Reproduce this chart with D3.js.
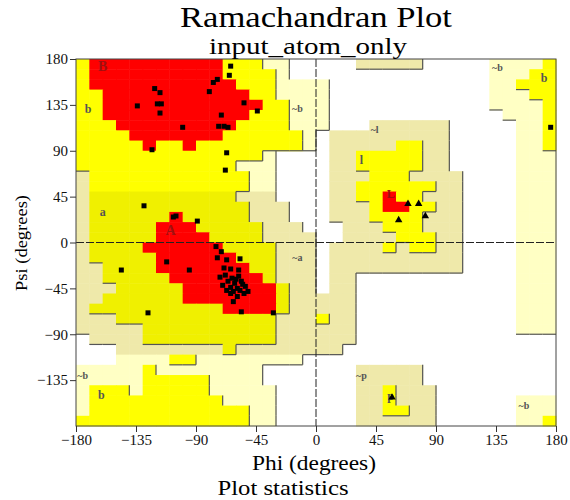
<!DOCTYPE html>
<html>
<head>
<meta charset="utf-8">
<script src="https://cdn.jsdelivr.net/npm/d3@7/dist/d3.min.js"></script>
<style>
body { margin: 0; background: #fff; }
svg text { font-family: "Liberation Serif", "DejaVu Serif", "Noto Serif", "Tinos", "Times New Roman", Times, serif; }
</style>
</head>
<body>
<div id="chart"></div>
<script>
// region map, 10 degree cells, rows from psi=180 down, columns from phi=-180
// R core, Y/y allowed, G/P generous, . disallowed
var regionRows = [
    "YRRRRRRRRRRYYYPP.." + "...GGGGG.....PPPPY",
    "YRRRRRRRRRRYYYYP.." + ".............PPPYY",
    "YRRRRRRRRRRRYYYPPP" + "P............PPYYY",
    "YYRRRRRRRRRRRYYPPP" + "P............PPPYY",
    "YYRRRRRRRRRRRRYYPP" + "P............PPPPY",
    "YYRRRRRRRRRRRYYYPP" + "P.............PPPY",
    "YYYRRRRRRRRRYYYYPP" + "P...GGGGGG.....PPY",
    "YYYYRRRRRRRYYYYYYP" + ".GGGGGGGGG.....PPY",
    "YYYYYRYYRYYYYYYYYP" + ".GGGGGYYGG.....PPY",
    "YYYYYYYYYYYYYYP..." + ".GGYYYYYGG.....PPP",
    "YYYYYYYYYYYYPPP..." + ".GGYYYYYGG.....PPP",
    "GYYYYYYYYYYYYPP..." + ".GGGYYYGGGG....PPP",
    "GYYYYYYYYYYYYPP..." + ".GGYYYYYYGG....PPP",
    "GyyyyyyyyyyyGGG..." + ".GGYYRYYGGG....PPP",
    "GyyyyyyyyyyyyGGG.." + ".GGGYRRYYGG....PPP",
    "GyyyyyyRyyyyyGGG.." + ".GGGYYYYGGG....PPP",
    "GyyyyyRRRyyyyyGGG." + "..GGGYYYGGG....PPP",
    "GyyyyyRRRRyyyyGGGG" + "..GGGGYYYGG....PPP",
    "GyyyyRRRRRRyyyyGGG" + ".GGGGYGYYGG....PPP",
    "GyyyyyRRRRRRyyyGGG" + ".GGGGGGGGGG....PPP",
    "GGyyyyRRRRRRRyyGGG" + ".GGGGGGGGGG....PPP",
    "GGyyyyyRRRRRRRyGGG" + ".GG............PPP",
    "GGGyyyyyRRRRRRRyGG" + ".GG............PPP",
    "GGyyyyyyRRRRRRRyGG" + "GGG............PPP",
    "GyyyyyyyyyyRRRRyGG" + "GGG............PPP",
    "GGGyyyyyyyyyyyyGGG" + "YGG............PPP",
    "GGGGGyyyyyyyyyyGGG" + "GGG............PPP",
    ".GGGGyyyyyyyyyyGGG" + "GGG...............",
    "...GGGGGGGGyGGGGGG" + "GG................",
    "...PPPPYYPPPPPPPP." + "..................",
    "PPPPPYPPPPPPPP...." + "...GGGGG..........",
    "PPPPPYYYYYPPPP...." + "...GGGGG..........",
    "PYYYPYYYYYPPPPP..." + "...GGYGGG.........",
    "PYYYYYYYYYYPPPP..." + "...GGYGGG......PPP",
    "PYYYYYYYYYYYYPP..." + "...GGYYGG......PPP",
    "YYYYYYYYYYYYYPP..." + "...GGGGGG......PPY"
];

var phiTicks = [-180, -135, -90, -45, 0, 45, 90, 135, 180];
var psiTicks = [-135, -90, -45, 0, 45, 90, 135, 180];

// non-glycine residues (squares)
var resPhi = [-121, -117, -134, -119, -116, -117, -100, -123,
    -64, -65, -74, -77, -80, -54, -44, -71, -73, -69, -66, -67, -68,
    -129, -107, -105, -89, -112, -95, -146, -126, -32,
    -75, -71, -57, -67, -74, -69, -64, -58,
    -68, -63, -58, -66, -61, -56, -70, -64, -59, -53, -67, -62, -57, -51, -60, -72, -55,
    -64, -59, -54, -62, -56, 176];
var resPsi = [151, 147, 134, 136, 136, 127, 113, 91,
    173, 164, 160, 157, 148, 137, 129, 125, 114, 114, 113, 88, 71,
    36, 25, 26, 21, -19, -27, -27, -69, -69,
    -4, -9, -16, -17, -15, -25, -26, -27,
    -32, -35, -33, -38, -40, -38, -42, -44, -45, -43, -47, -48, -47, -48, -36, -34, -41,
    -50, -53, -50, -58, -68, 113];

// glycines (triangles)
var glyPhi = [69, 77, 82, 62, 57];
var glyPsi = [38, 38, 26, 22, -152];

var labelText = ["B", "b", "A", "a", "~b", "~a", "~l", "l", "L", "~p", "p", "~b", "~b", "b", "~b", "b"];
var labelPhi = [-160, -171, -109, -160, -14, -14, 44, 34, 56, 34, 56, 156, 136, 171, -175, -161];
var labelPsi = [171, 130, 11, 29, 130, -16, 110, 80, 46, -132, -152, -161, 170, 160, -132, -151];

var svg = d3.select("#chart").append("svg")
        .attr("width", 570)
        .attr("height", 500);

var x = d3.scaleLinear().domain([-180, 180]).range([76, 556]);
var y = d3.scaleLinear().domain([-180, 180]).range([426, 59]);

var cellColor = {R: "#ff0000", Y: "#ffff00", y: "#f0f000", G: "#efe9aa", P: "#ffffc4"};
var level = {R: 3, Y: 2, y: 2, G: 1, P: 1, ".": 0};

var cells = [];
regionRows.forEach(function (row, j) {
    row.split("").forEach(function (c, i) {
        cells.push({i: i, j: j, c: c, phi: -180 + 10 * i, psi: 180 - 10 * j});
    });
});

svg.append("g").selectAll("rect")
        .data(cells.filter(function (d) { return d.c != "."; }))
        .enter()
        .append("rect")
        .attr("x", function (d) { return x(d.phi); })
        .attr("y", function (d) { return y(d.psi); })
        .attr("width", function (d) { return x(d.phi + 10) - x(d.phi) + 0.5; })
        .attr("height", function (d) { return y(d.psi - 10) - y(d.psi) + 0.5; })
        .attr("fill", function (d) { return cellColor[d.c]; });

// region edge lines on right and bottom sides
var edges = [];
cells.forEach(function (d) {
    var l = level[d.c];
    if (l == 0 || l == 3) return;
    if (d.i < 35 && level[regionRows[d.j][d.i + 1]] < l) {
        edges.push([d.phi + 10, d.psi, d.phi + 10, d.psi - 10]);
    }
    if (d.j < 35 && level[regionRows[d.j + 1][d.i]] < l) {
        edges.push([d.phi, d.psi - 10, d.phi + 10, d.psi - 10]);
    }
});
svg.append("g").selectAll("line")
        .data(edges)
        .enter()
        .append("line")
        .attr("x1", function (d) { return x(d[0]); })
        .attr("y1", function (d) { return y(d[1]); })
        .attr("x2", function (d) { return x(d[2]); })
        .attr("y2", function (d) { return y(d[3]); })
        .attr("stroke", "#555")
        .attr("stroke-width", 1.2);

// zero lines
svg.append("line")
        .attr("x1", x(0)).attr("x2", x(0))
        .attr("y1", y(180)).attr("y2", y(-180))
        .attr("stroke", "#222").attr("stroke-dasharray", "8,2");
svg.append("line")
        .attr("x1", x(-180)).attr("x2", x(180))
        .attr("y1", y(0)).attr("y2", y(0))
        .attr("stroke", "#222").attr("stroke-dasharray", "8,2");

// frame
svg.append("rect")
        .attr("x", x(-180)).attr("y", y(180))
        .attr("width", x(180) - x(-180)).attr("height", y(-180) - y(180))
        .attr("fill", "none").attr("stroke", "#444");

// region letters
svg.append("g").selectAll("text")
        .data(labelText)
        .enter()
        .append("text")
        .attr("x", function (d, i) { return x(labelPhi[i]); })
        .attr("y", function (d, i) { return y(labelPsi[i]); })
        .attr("text-anchor", "middle")
        .attr("dominant-baseline", "middle")
        .style("font-size", function (d) { return (d == "B" || d == "A") ? "14px" : (d.length > 1 ? "10px" : "12px"); })
        .style("font-weight", "bold")
        .attr("fill", function (d) { return (d == "B" || d == "A" || d == "L") ? "#a01010" : "#555"; })
        .text(function (d) { return d; });

// residues
svg.append("g").selectAll("rect")
        .data(resPhi)
        .enter()
        .append("rect")
        .attr("x", function (d) { return x(d) - 2.5; })
        .attr("y", function (d, i) { return y(resPsi[i]) - 2.5; })
        .attr("width", 5)
        .attr("height", 5)
        .attr("fill", "#000");

svg.append("g").selectAll("path")
        .data(glyPhi)
        .enter()
        .append("path")
        .attr("d", d3.symbol().type(d3.symbolTriangle).size(24))
        .attr("transform", function (d, i) { return "translate(" + x(d) + "," + y(glyPsi[i]) + ")"; })
        .attr("fill", "#000");

// axes
var xAxis = svg.append("g")
        .attr("transform", "translate(0," + y(-180) + ")")
        .call(d3.axisBottom(x).tickValues(phiTicks).tickSize(6).tickPadding(2));
var yAxis = svg.append("g")
        .attr("transform", "translate(" + x(-180) + ",0)")
        .call(d3.axisLeft(y).tickValues(psiTicks).tickSize(6).tickPadding(2));
[xAxis, yAxis].forEach(function (a) {
    a.attr("font-family", null).attr("font-size", 15);
    a.select(".domain").remove();
    a.selectAll("line").attr("stroke", "#333");
    a.selectAll("text").attr("fill", "#111");
});

// titles
svg.append("text").attr("x", 316).attr("y", 27)
        .attr("text-anchor", "middle").style("font-size", "30px")
        .attr("textLength", 272).attr("lengthAdjust", "spacingAndGlyphs")
        .text("Ramachandran Plot");
svg.append("text").attr("x", 308).attr("y", 54)
        .attr("text-anchor", "middle").style("font-size", "24px")
        .attr("textLength", 198).attr("lengthAdjust", "spacingAndGlyphs")
        .text("input_atom_only");
svg.append("text").attr("x", 314).attr("y", 470)
        .attr("text-anchor", "middle").style("font-size", "21px")
        .attr("textLength", 124).attr("lengthAdjust", "spacingAndGlyphs")
        .text("Phi (degrees)");
svg.append("text").attr("transform", "translate(27,243) rotate(-90)")
        .attr("text-anchor", "middle").style("font-size", "16px")
        .attr("textLength", 96).attr("lengthAdjust", "spacingAndGlyphs")
        .text("Psi (degrees)");
svg.append("text").attr("x", 283).attr("y", 495)
        .attr("text-anchor", "middle").style("font-size", "22px")
        .attr("textLength", 131).attr("lengthAdjust", "spacingAndGlyphs")
        .text("Plot statistics");
</script>
</body>
</html>
